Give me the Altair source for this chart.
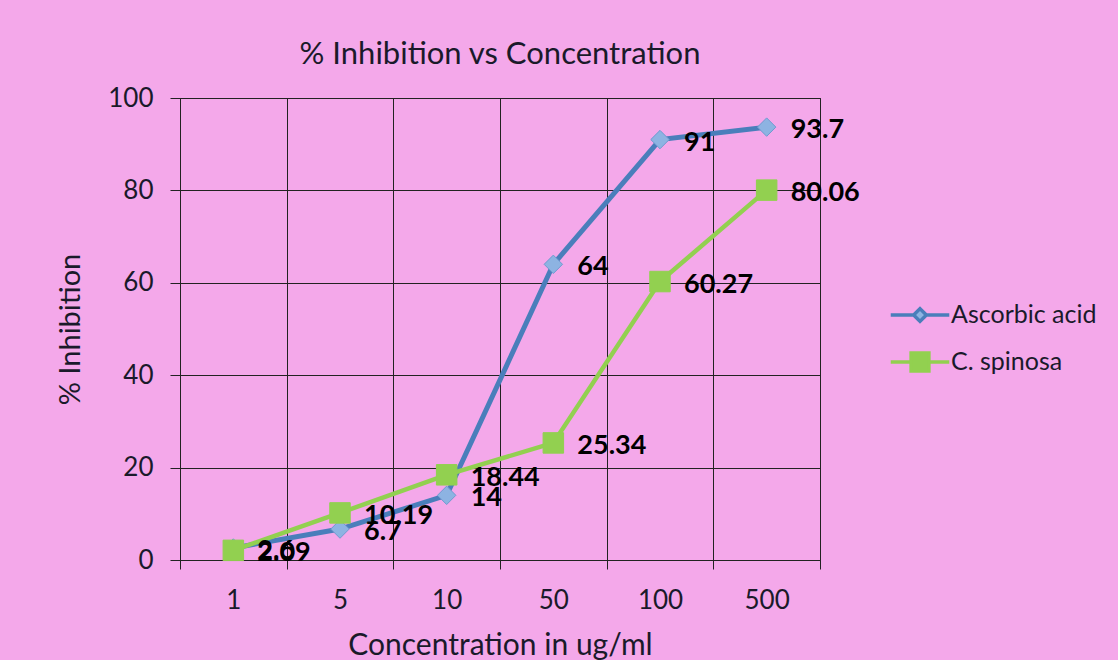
import altair as alt
import pandas as pd

concentrations = ["1", "5", "10", "50", "100", "500"]
ascorbic = [2.6, 6.7, 14, 64, 91, 93.7]
spinosa = [2.09, 10.19, 18.44, 25.34, 60.27, 80.06]
series_names = ["Ascorbic acid", "C. spinosa"]
y_ticks = [0, 20, 40, 60, 80, 100]

FONT = "Lato"
BG = "#F4A8EA"
BLUE = "#4A7EBB"
LIGHT_BLUE = "#8DB3E2"
GREEN = "#92D050"
TXT = "#1a1a2a"

df_a = pd.DataFrame({"conc": concentrations, "value": ascorbic, "series": series_names[0]})
df_s = pd.DataFrame({"conc": concentrations, "value": spinosa, "series": series_names[1]})
df_all = pd.concat([df_a, df_s], ignore_index=True)
df_a["label"] = [f"{v:g}" for v in ascorbic]
df_s["label"] = [f"{v:g}" for v in spinosa]

x_enc = alt.X(
    "conc:O",
    sort=concentrations,
    scale=alt.Scale(type="band", paddingInner=0, paddingOuter=0),
    axis=alt.Axis(
        title="Concentration in ug/ml",
        labelAngle=0,
        tickBand="extent",
        grid=True,
        gridColor="#222222",
        gridOpacity=1,
        tickSize=9,
        tickColor="#222222",
        domainColor="#222222",
        labelFont=FONT,
        labelFontSize=26,
        labelColor=TXT,
        labelPadding=18,
        titleFont=FONT,
        titleFontSize=30,
        titleFontWeight="normal",
        titleColor=TXT,
        titlePadding=17,
    ),
)
y_enc = alt.Y(
    "value:Q",
    scale=alt.Scale(domain=[0, 100], nice=False),
    axis=alt.Axis(
        title="% Inhibition",
        values=y_ticks,
        grid=True,
        gridColor="#222222",
        gridOpacity=1,
        tickSize=10,
        tickColor="#222222",
        domainColor="#222222",
        labelFont=FONT,
        labelFontSize=26,
        labelColor=TXT,
        labelPadding=17,
        titleFont=FONT,
        titleFontSize=29,
        titleFontWeight="normal",
        titleColor=TXT,
        titlePadding=22,
    ),
)

line_a = alt.Chart(df_a).mark_line(color=BLUE, strokeWidth=5).encode(x=x_enc, y=y_enc)
line_s = alt.Chart(df_s).mark_line(color=GREEN, strokeWidth=4.5).encode(x=x_enc, y=y_enc)
pts_a = alt.Chart(df_a).mark_point(
    shape="diamond", filled=True, fill=LIGHT_BLUE, stroke="#6F9AD0", strokeWidth=1, size=340, opacity=1
).encode(x=x_enc, y=y_enc)
pts_s = alt.Chart(df_s).mark_point(
    shape="square", filled=True, fill=GREEN, stroke=GREEN, strokeWidth=1, size=420, opacity=1
).encode(x=x_enc, y=y_enc)

lab_kw = dict(align="left", baseline="middle", dx=24, dy=3, font=FONT, fontSize=27,
              fontWeight="bold", color="#000000")
lab_a = alt.Chart(df_a).mark_text(**lab_kw).encode(x=x_enc, y=y_enc, text="label:N")
lab_s = alt.Chart(df_s).mark_text(**lab_kw).encode(x=x_enc, y=y_enc, text="label:N")

legend_shapes = [
    "M-1.38,0H-0.3M0.3,0H1.38M0,-0.3L0.3,0L0,0.3L-0.3,0Z",
    "M-1.38,0H-0.42M0.42,0H1.38M-0.42,-0.42H0.42V0.42H-0.42Z",
]
legend_layer = alt.Chart(df_all).transform_filter("false").mark_point(
    filled=True, strokeWidth=3, opacity=1
).encode(
    x=x_enc,
    y=y_enc,
    shape=alt.Shape(
        "series:N",
        scale=alt.Scale(domain=series_names, range=legend_shapes),
        legend=alt.Legend(
            title=None,
            orient="none",
            legendX=717,
            legendY=194,
            symbolSize=1800,
            symbolStrokeWidth=3.5,
            labelFont=FONT,
            labelFontSize=25,
            labelColor=TXT,
            labelOffset=8,
            rowPadding=10,
            symbolOpacity=1,
        ),
    ),
    stroke=alt.Stroke("series:N", scale=alt.Scale(domain=series_names, range=[BLUE, GREEN])),
    fill=alt.Fill("series:N", scale=alt.Scale(domain=series_names, range=[LIGHT_BLUE, GREEN])),
)

chart = (
    alt.layer(line_a, line_s, pts_a, pts_s, lab_a, lab_s, legend_layer)
    .properties(
        width=640,
        height=462,
        background=BG,
        padding={"left": 180, "top": 98, "right": 298, "bottom": 100},
        autosize=alt.AutoSizeParams(type="none"),
        title=alt.TitleParams(
            "% Inhibition vs Concentration",
            font=FONT,
            fontSize=31,
            fontWeight="normal",
            color=TXT,
            anchor="middle",
            offset=14,
        ),
    )
    .configure_view(stroke="#222222", strokeWidth=1)
)

chart.save("out.html", embed_options={"renderer": "svg", "actions": False})
